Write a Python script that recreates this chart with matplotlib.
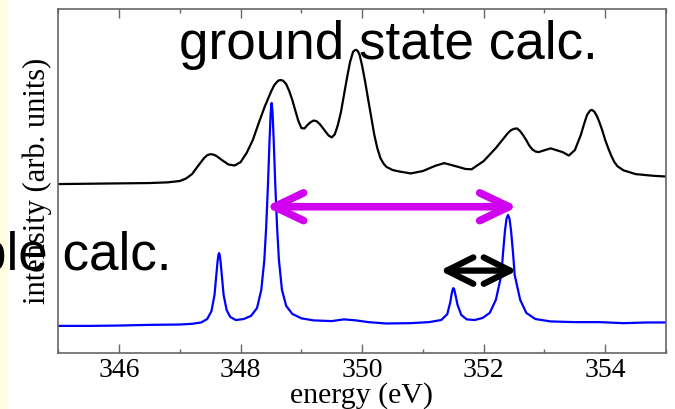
import matplotlib
matplotlib.use('Agg')
import matplotlib.pyplot as plt
from matplotlib.patches import FancyArrowPatch, Rectangle
from matplotlib.ticker import MultipleLocator

# ground state calculation (black), energy in eV, intensity in arb. units
gs_energy = [345.0, 345.5, 346.0, 346.5, 346.8, 347.0, 347.1, 347.2, 347.3, 347.4,
             347.45, 347.5, 347.55, 347.6, 347.7, 347.8, 347.9, 348.0, 348.1, 348.2,
             348.3, 348.4, 348.5, 348.55, 348.6, 348.63, 348.66, 348.7, 348.75, 348.8,
             348.85, 348.9, 348.95, 349.0, 349.05, 349.1, 349.15, 349.2, 349.25, 349.3,
             349.35, 349.4, 349.45, 349.5, 349.55, 349.6, 349.65, 349.7, 349.75, 349.8,
             349.85, 349.88, 349.9, 349.93, 349.96, 350.0, 350.05, 350.1, 350.15, 350.2,
             350.25, 350.3, 350.35, 350.4, 350.5, 350.6, 350.8, 351.0, 351.2, 351.35,
             351.5, 351.7, 351.8, 352.0, 352.2, 352.4, 352.45, 352.5, 352.55, 352.6,
             352.65, 352.7, 352.75, 352.8, 352.85, 352.9, 353.1, 353.3, 353.4, 353.5,
             353.6, 353.65, 353.7, 353.75, 353.78, 353.82, 353.86, 353.9, 353.95, 354.0,
             354.05, 354.1, 354.15, 354.2, 354.3, 354.5, 354.8, 355.0]
gs_intensity = [49.1, 49.2, 49.3, 49.4, 49.6, 50.0, 50.7, 52.0, 54.4, 56.7,
                57.5, 57.8, 57.7, 57.3, 56.0, 54.8, 54.5, 55.5, 58.2, 61.9,
                67.0, 71.8, 76.0, 77.8, 78.9, 79.3, 79.4, 79.2, 78.2, 76.2,
                73.6, 70.5, 67.5, 65.4, 65.3, 66.3, 67.1, 67.6, 67.4, 66.6,
                65.5, 64.3, 63.2, 62.7, 63.6, 66.3, 70.0, 75.0, 80.0, 84.6,
                87.6, 88.1, 88.2, 87.8, 86.6, 83.5, 78.8, 73.6, 68.5, 63.4,
                59.5, 56.7, 55.1, 54.1, 53.2, 52.8, 52.2, 52.9, 54.4, 55.2,
                54.5, 53.5, 53.4, 55.8, 59.6, 64.0, 64.8, 65.2, 65.3, 64.5,
                63.3, 61.9, 60.3, 59.2, 58.6, 58.4, 59.5, 58.4, 57.4, 59.0,
                63.5, 66.5, 69.2, 70.5, 70.7, 70.2, 69.0, 67.3, 64.8, 61.9,
                59.5, 57.3, 55.5, 54.3, 53.1, 52.0, 51.5, 51.3]

# second calculation (blue)
dh_energy = [345.0, 345.5, 346.0, 346.5, 347.0, 347.2, 347.35, 347.45, 347.52, 347.57,
             347.60, 347.62, 347.635, 347.645, 347.655, 347.67, 347.69, 347.72, 347.77, 347.83,
             347.92, 348.05, 348.17, 348.27, 348.34, 348.39, 348.42, 348.45, 348.475, 348.495,
             348.51, 348.525, 348.545, 348.57, 348.60, 348.63, 348.68, 348.75, 348.85, 349.0,
             349.2, 349.5, 349.7, 349.9, 350.1, 350.4, 350.8, 351.1, 351.3, 351.4,
             351.45, 351.47, 351.49, 351.50, 351.515, 351.535, 351.57, 351.63, 351.72, 351.85,
             351.98, 352.1, 352.2, 352.29, 352.32, 352.35, 352.375, 352.40, 352.425, 352.45,
             352.48, 352.51, 352.60, 352.70, 352.85, 353.1, 353.5, 353.9, 354.3, 354.7,
             355.0]
dh_intensity = [7.8, 7.8, 7.9, 8.1, 8.2, 8.4, 8.8, 9.8, 12.1, 16.8,
                22.6, 26.5, 28.5, 29.0, 28.5, 26.5, 22.6, 16.8, 12.4, 10.4,
                9.5, 9.8, 10.7, 13.0, 18.3, 27.0, 36.5, 49.0, 61.5, 70.0,
                72.7, 70.0, 61.5, 49.0, 36.5, 27.0, 18.3, 13.6, 11.3, 10.0,
                9.4, 9.2, 9.7, 9.4, 8.9, 8.5, 8.6, 8.9, 9.5, 11.2,
                14.7, 16.9, 18.4, 18.8, 18.4, 16.8, 13.9, 11.0, 9.7, 9.5,
                10.1, 11.6, 15.4, 22.6, 29.5, 35.5, 39.0, 40.1, 39.0, 35.5,
                29.5, 22.6, 15.4, 11.6, 9.8, 9.1, 8.9, 8.9, 8.6, 8.8,
                8.8]

xticks = [346, 348, 350, 352, 354]
xtick_labels = ['346', '348', '350', '352', '354']

# arrows: (start energy, end energy, height)
magenta_arrow = (348.41, 352.56, 42.5)
black_arrow = (351.28, 352.55, 23.9)

serif = ['Liberation Serif', 'DejaVu Serif']
sans = ['Liberation Sans', 'DejaVu Sans']

fig = plt.figure(figsize=(6.75, 4.09), dpi=100)
fig.patches.append(Rectangle((0, 0), 8 / 675, 1, transform=fig.transFigure,
                             facecolor='#FFFEE2', edgecolor='none', zorder=0))

ax = fig.add_axes([0.0864, 0.1377, 0.9003, 0.8396])
ax.plot(gs_energy, gs_intensity, color='black', lw=1.6,
        solid_joinstyle='round', solid_capstyle='round')
ax.plot(dh_energy, dh_intensity, color='#0000FF', lw=1.6,
        solid_joinstyle='round', solid_capstyle='round')

ax.set_xlim(345, 355)
ax.set_ylim(0, 100)
ax.set_xticks(xticks)
ax.set_xticklabels(xtick_labels, fontfamily=serif, fontsize=20)
ax.xaxis.set_minor_locator(MultipleLocator(1))
ax.set_yticks([])
ax.tick_params(axis='x', which='both', direction='in', top=True, bottom=True,
               color='#666666', pad=3.5)
ax.tick_params(axis='x', which='major', length=6.3, width=1.0)
ax.tick_params(axis='x', which='minor', length=2.6, width=1.0)
for sp in ax.spines.values():
    sp.set_color('#666666')
    sp.set_linewidth(1.2)

for (e0, e1, h), col, lw, hl, hw in [(magenta_arrow, '#D000F0', 5.5, 21, 10),
                                     (black_arrow, 'black', 4.5, 19, 9.5)]:
    arr = FancyArrowPatch((e0, h), (e1, h),
                          arrowstyle=f'<->,head_length={hl},head_width={hw}',
                          mutation_scale=1, color=col, lw=lw,
                          shrinkA=0, shrinkB=0, capstyle='round', joinstyle='round',
                          zorder=5)
    ax.add_patch(arr)

fig.text(37 / 675, 1 - 181 / 409, 'intensity (arb. units)', rotation=90,
         ha='center', va='center', fontfamily=serif, fontsize=22)
fig.text(362 / 675, 1 - 403 / 409, 'energy (eV)', ha='center', va='baseline',
         fontfamily=serif, fontsize=21.5)

fig.text(179 / 675, 1 - 59.3 / 409, 'ground state calc.', ha='left', va='baseline',
         fontfamily=sans, fontsize=38.2, zorder=10)
fig.text(171 / 675, 1 - 270 / 409, 'ble calc.', ha='right', va='baseline',
         fontfamily=sans, fontsize=38.2, zorder=10)

fig.savefig('out.png', dpi=100)
